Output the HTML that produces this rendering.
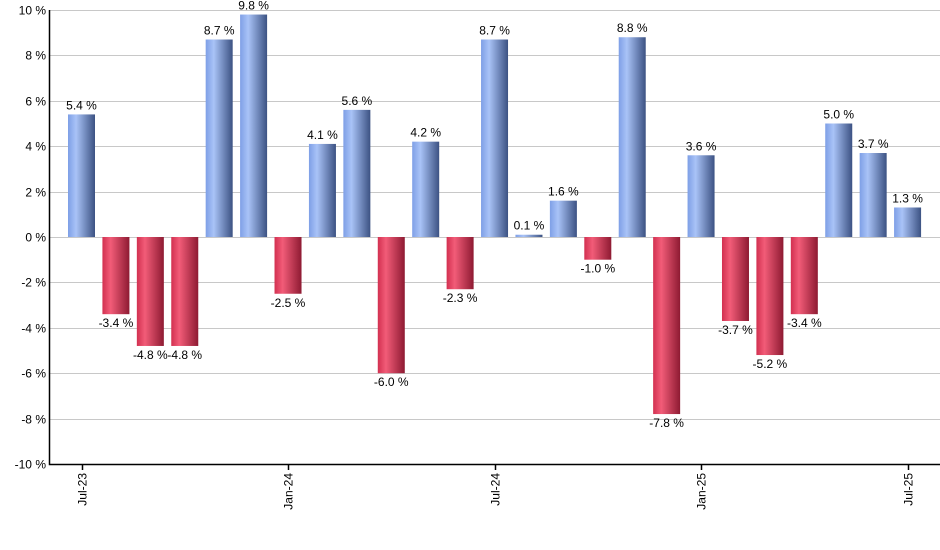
<!DOCTYPE html>
<html><head><meta charset="utf-8"><style>
body{margin:0;background:#fff}
svg{display:block;font-family:"Liberation Sans",sans-serif}
</style></head><body>
<svg id="chart" width="940" height="550" viewBox="0 0 940 550">
<defs>
<linearGradient id="gb" x1="0" x2="1" y1="0" y2="0"><stop offset="0" stop-color="#7e9fe6"/><stop offset="0.3" stop-color="#a9c3f7"/><stop offset="1" stop-color="#3c5283"/></linearGradient>
<linearGradient id="gr" x1="0" x2="1" y1="0" y2="0"><stop offset="0" stop-color="#d23050"/><stop offset="0.3" stop-color="#f25c78"/><stop offset="1" stop-color="#8e1a32"/></linearGradient>
</defs>
<g id="grid"></g>
<g id="bars"></g>
<g id="axes"></g>
</svg>
<script>
const categories=["Jul-23","Aug-23","Sep-23","Oct-23","Nov-23","Dec-23","Jan-24","Feb-24","Mar-24","Apr-24","May-24","Jun-24","Jul-24","Aug-24","Sep-24","Oct-24","Nov-24","Dec-24","Jan-25","Feb-25","Mar-25","Apr-25","May-25","Jun-25","Jul-25"];
const values=[5.4,-3.4,-4.8,-4.8,8.7,9.8,-2.5,4.1,5.6,-6.0,4.2,-2.3,8.7,0.1,1.6,-1.0,8.8,-7.8,3.6,-3.7,-5.2,-3.4,5.0,3.7,1.3];
const yTicks=[10,8,6,4,2,0,-2,-4,-6,-8,-10];
const xTickLabels=["Jul-23","Jan-24","Jul-24","Jan-25","Jul-25"];
const NS="http://www.w3.org/2000/svg";
const L=49.5,R=940,T=10,B=464,x0=81.5,step=34.42,bw=27;
function y(v){return T+(10-v)/20*(B-T);}
function x(i){return x0+i*step;}
function mk(t,a,p){const e=document.createElementNS(NS,t);for(const k in a)e.setAttribute(k,a[k]);p.appendChild(e);return e;}
const grid=document.getElementById('grid'),bars=document.getElementById('bars'),axes=document.getElementById('axes');
yTicks.forEach(v=>{
 const yy=Math.round(y(v))+0.5;
 const g=mk('line',{x1:L,x2:R,y1:yy,y2:yy,stroke:'#c8c8c8','stroke-width':1},grid);
 
 
 const t=mk('text',{x:46,y:yy+4,'text-anchor':'end','font-size':12,fill:'#000'},axes);
 t.textContent=v+' %';
 
 
});
values.forEach((v,i)=>{
 const top=y(Math.max(v,0)),bot=y(Math.min(v,0));
 const r=mk('rect',{x:x(i)-bw/2,y:top,width:bw,height:Math.max(bot-top,1),fill:v>=0?'url(#gb)':'url(#gr)'},bars);
 
 
 const ly=v>=0?top-5:bot+13;
 const t=mk('text',{x:x(i),y:ly,'text-anchor':'middle','font-size':12,fill:'#000'},bars);
 t.textContent=v.toFixed(1)+' %';
 
 
});
const ax=mk('path',{d:`M${L} ${T} V${B+0.5} H${R}`,stroke:'#000','stroke-width':1.5,fill:'none'},axes);


xTickLabels.forEach(lab=>{
 const i=categories.indexOf(lab),xx=Math.round(x(i))+0.5;
 const tk=mk('line',{x1:xx,x2:xx,y1:B,y2:B+6,stroke:'#000','stroke-width':1.5},axes);
 
 
 const t=mk('text',{x:0,y:0,'text-anchor':'end','font-size':12,fill:'#000',transform:`translate(${xx+4},${B+9}) rotate(-90)`},axes);
 t.textContent=lab;
 
 
});
</script>
</body></html>
